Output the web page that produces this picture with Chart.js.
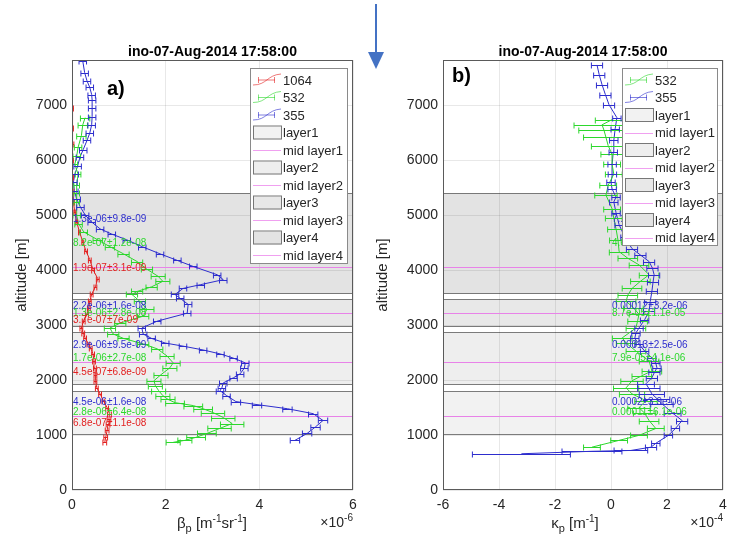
<!DOCTYPE html>
<html>
<head>
<meta charset="utf-8">
<script src="https://cdn.jsdelivr.net/npm/chart.js@4"></script>
<style>
  body { margin: 0; background: #fff; }
  #wrap { position: relative; width: 743px; height: 548px; overflow: hidden; }
  canvas { position: absolute; top: 0; }
  #ca { left: 0; }
  #cb { left: 372px; }
  #arrow { position: absolute; left: 0; top: 0; }
</style>
</head>
<body>
<div id="wrap">
  <canvas id="ca" width="372" height="548" style="width:372px;height:548px"></canvas>
  <canvas id="cb" width="371" height="548" style="width:371px;height:548px"></canvas>
  <svg id="arrow" width="743" height="80">
    <line x1="376" y1="4" x2="376" y2="54" stroke="#4472c4" stroke-width="2"/>
    <polygon points="368,52 384,52 376,69" fill="#4472c4"/>
  </svg>
</div>
<script>
// ---- panel a: backscatter (x 1e-6 m-1 sr-1) ----
const alt355a = [904,1030,1150,1266,1390,1480,1555,1610,1720,1810,1860,1950,2045,2115,2220,2315,2400,2477,2550,2620,2676,2760,2840,2950,3075,3220,3380,3490,3560,3670,3740,3830,3920,4070,4180,4300,4430,4555,4660,4755,4880,5010,5150,5300,5450,5600,5750,5900,6060,6200,6365,6500,6650,6800,6960,7100,7200,7330,7450,7600,7810];
const beta355 = [4.76,5.02,5.2,5.36,5.15,4.6,3.95,3.5,3.3,3.16,3.2,3.23,3.45,3.59,3.68,3.7,3.45,3.17,2.8,2.37,1.99,1.7,1.52,1.49,1.82,2.46,2.48,2.31,2.2,2.37,2.75,3.23,3.1,2.59,2.25,1.88,1.5,1.17,0.85,0.6,0.42,0.28,0.18,0.1,0.05,0.03,0.06,0.12,0.17,0.24,0.32,0.38,0.42,0.43,0.43,0.43,0.42,0.38,0.32,0.27,0.23];
const err355a = [.1,.1,.1,.1,.1,.1,.1,.1,.08,.08,.08,.08,.08,.08,.08,.08,.08,.08,.08,.08,.08,.08,.08,.08,.08,.08,.08,.08,.08,.08,.08,.08,.08,.08,.08,.08,.08,.08,.08,.08,.08,.08,.08,.08,.08,.08,.08,.08,.08,.08,.08,.08,.08,.08,.08,.08,.08,.08,.08,.08,.08];

const alt532a = [868,904,960,1030,1120,1210,1320,1410,1480,1537,1590,1650,1718,1810,1900,1990,2100,2225,2315,2440,2570,2660,2760,2840,2950,3040,3165,3290,3435,3560,3615,3700,3800,3890,4020,4160,4300,4430,4555,4700,4850,5000,5240,5400,5550,5750,5930,6080,6240,6450,6650,6780];
const beta532 = [2.16,2.41,2.65,2.88,3.15,3.42,3.23,3.01,2.8,2.59,2.2,2.05,1.94,1.85,1.78,1.75,1.9,2.09,2.16,2.03,1.82,1.52,1.1,0.88,0.81,1.03,1.52,1.6,1.45,1.28,1.39,1.7,1.94,1.84,1.6,1.39,1.1,0.81,0.55,0.25,0.14,0.1,0.1,0.1,0.1,0.13,0.06,0.1,0.13,0.2,0.23,0.28];
const err532a = [.15,.15,.2,.2,.25,.25,.25,.25,.2,.2,.2,.15,.15,.15,.15,.15,.15,.15,.15,.15,.12,.12,.12,.12,.12,.12,.12,.15,.12,.12,.12,.12,.15,.15,.12,.12,.12,.1,.1,.08,.08,.08,.06,.06,.06,.06,.06,.08,.08,.1,.1,.1];

const alt1064 = [868,960,1085,1200,1300,1390,1500,1627,1750,1862,1990,2100,2225,2350,2477,2580,2660,2770,2860,2950,3080,3200,3320,3435,3560,3700,3850,4010,4195,4350,4520,4700,4880,5060,5240,5450,5700,6000,6300,6600,6950];
const beta1064 = [0.7,0.72,0.75,0.77,0.79,0.8,0.75,0.67,0.6,0.53,0.5,0.5,0.49,0.47,0.45,0.4,0.35,0.28,0.24,0.2,0.25,0.32,0.36,0.38,0.42,0.5,0.55,0.45,0.38,0.3,0.23,0.16,0.1,0.06,0.03,0.02,0.01,0.01,0.02,0.01,0.01];
const err1064 = [.04,.04,.04,.04,.04,.04,.03,.03,.03,.03,.03,.03,.03,.03,.03,.03,.03,.03,.03,.03,.03,.03,.03,.03,.03,.03,.03,.03,.03,.03,.02,.02,.02,.02,.02,.02,.02,.02,.02,.02,.02];

// ---- panel b: extinction (x 1e-4 m-1) ----
const alt355b = [660,705,720,780,850,995,1120,1265,1400,1570,1660,1750,1850,1935,2045,2140,2225,2310,2405,2530,2660,2760,2860,2950,3100,3255,3430,3615,3780,3920,4040,4160,4280,4395,4600,4830,5050,5245,5335,5480,5600,5750,5930,6150,6365,6580,6780,7015,7200,7380,7560,7740];
const kappa355 = [-3.2,-0.68,0.71,1.43,1.6,2.05,2.3,2.54,2.2,1.82,1.65,1.46,1.35,1.25,1.46,1.55,1.64,1.6,1.46,1.2,1.0,0.85,0.89,1.0,1.2,1.36,1.4,1.46,1.5,1.54,1.48,1.36,1.05,0.75,0.5,0.29,0.18,0.1,0.18,0.04,0.0,0.05,0.04,0.08,0.1,0.15,0.21,-0.07,-0.2,-0.32,-0.42,-0.5];
const err355b = [1.75,1.07,0.6,0.2,0.15,0.15,0.15,0.2,0.3,0.4,0.45,0.45,0.4,0.3,0.2,0.2,0.15,0.15,0.15,0.15,0.15,0.15,0.15,0.15,0.15,0.2,0.2,0.2,0.2,0.2,0.2,0.2,0.2,0.2,0.15,0.15,0.15,0.15,0.15,0.15,0.15,0.15,0.15,0.15,0.15,0.15,0.15,0.2,0.2,0.2,0.2,0.2];

const alt532b = [780,904,995,1120,1265,1400,1500,1627,1750,1860,1990,2080,2170,2350,2530,2676,2770,2950,3080,3200,3320,3435,3550,3670,3800,3920,4100,4220,4340,4550,4755,4950,5120,5370,5550,5750,5930,6110,6270,6420,6550,6650,6745];
const kappa532 = [-0.68,0.29,1.0,1.6,1.36,1.2,1.0,1.25,0.75,0.54,0.75,1.1,1.46,1.36,0.89,0.54,0.4,0.89,0.95,1.0,0.8,0.54,0.6,0.75,1.05,1.36,1.0,0.6,0.29,0.25,0.18,0.1,0.04,-0.18,-0.1,0.1,0.04,0.04,-0.1,-0.18,-0.25,-0.32,0.04];
const err532b = [0.3,0.3,0.3,0.3,0.35,0.4,0.4,0.4,0.45,0.45,0.4,0.35,0.35,0.35,0.35,0.35,0.35,0.35,0.35,0.35,0.35,0.35,0.35,0.35,0.35,0.35,0.35,0.35,0.35,0.3,0.3,0.3,0.3,0.4,0.3,0.3,0.3,0.4,0.6,0.8,0.9,1.0,0.6];

// ---- tick labels ----
const altTicks = [0, 1000, 2000, 3000, 4000, 5000, 6000, 7000];
const betaTicks = [0, 2, 4, 6];
const kappaTicks = [-6, -4, -2, 0, 2, 4];

// ---- layers (m) ----
const layerBottom = [1020, 1925, 2993, 3594];
const layerTop = [1803, 2873, 3474, 5410];
const layerMid = [1348, 2326, 3219, 4056];

// ---- per-layer value labels: text, series, altitude ----
const labelsA = [
  ['1.3e-06\u00b19.8e-09', '355', 4936], ['8.2e-07\u00b11.2e-08', '532', 4499], ['1.9e-07\u00b13.1e-09', '1064', 4044],
  ['2.2e-06\u00b11.6e-08', '355', 3352], ['1.3e-06\u00b12.8e-08', '532', 3224], ['3.7e-07\u00b17e-09', '1064', 3097],
  ['2.9e-06\u00b19.5e-09', '355', 2641], ['1.7e-06\u00b12.7e-08', '532', 2404], ['4.5e-07\u00b16.8e-09', '1064', 2149],
  ['4.5e-06\u00b11.6e-08', '355', 1603], ['2.8e-06\u00b16.4e-08', '532', 1421], ['6.8e-07\u00b11.1e-08', '1064', 1220]
];
const labelsB = [
  ['7.1e-05\u00b12.2e-06', '355', 4936], ['4.6e-05\u00b15.3e-06', '532', 4499],
  ['0.00012\u00b13.2e-06', '355', 3352], ['8.7e-05\u00b11.1e-05', '532', 3224],
  ['0.00013\u00b12.5e-06', '355', 2641], ['7.9e-05\u00b14.1e-06', '532', 2404],
  ['0.0002\u00b13.9e-06', '355', 1603], ['0.00011\u00b16.1e-06', '532', 1421]
];

const FONT = '"Liberation Sans", Arial, sans-serif';
const COL = { '1064': 'rgb(226,32,32)', '532': 'rgb(45,215,45)', '355': 'rgb(45,45,205)' };
const LIGHT = { '1064': 'rgba(226,32,32,0.6)', '532': 'rgba(45,215,45,0.6)', '355': 'rgba(45,45,205,0.6)' };
const LAYER_FILL = ['rgba(0,0,0,0.05)', 'rgba(0,0,0,0.065)', 'rgba(0,0,0,0.09)', 'rgba(0,0,0,0.11)'];
const MID_COL = 'rgb(232,130,232)';
const TXT = '#262626';

function pts(alt, val, err) {
  return alt.map((a, i) => ({ x: val[i], y: a, e: err[i] }));
}

function rich(ctx, parts, x, y, align) {
  let w = 0;
  parts.forEach(p => { ctx.font = p[1] + 'px ' + FONT; w += ctx.measureText(p[0]).width; });
  let cx = align === 'center' ? x - w / 2 : align === 'right' ? x - w : x;
  ctx.textAlign = 'left';
  ctx.textBaseline = 'alphabetic';
  parts.forEach(p => {
    ctx.font = p[1] + 'px ' + FONT;
    ctx.fillText(p[0], cx, y + p[2]);
    cx += ctx.measureText(p[0]).width;
  });
}

function deco(cfg) {
  return {
    id: 'deco',
    beforeDatasetsDraw(chart) {
      const { ctx, chartArea: ca, scales: { y } } = chart;
      ctx.save();
      ctx.beginPath(); ctx.rect(ca.left, ca.top, ca.width, ca.height); ctx.clip();
      for (let i = 0; i < layerBottom.length; i++) {
        const yt = Math.round(y.getPixelForValue(layerTop[i])) + 0.5;
        const yb = Math.round(y.getPixelForValue(layerBottom[i])) + 0.5;
        ctx.fillStyle = LAYER_FILL[i];
        ctx.fillRect(ca.left, yt, ca.width, yb - yt);
        ctx.strokeStyle = 'rgba(0,0,0,0.5)'; ctx.lineWidth = 1;
        ctx.strokeRect(ca.left, yt, ca.width, yb - yt);
        const ym = Math.round(y.getPixelForValue(layerMid[i])) + 0.5;
        ctx.strokeStyle = MID_COL;
        ctx.beginPath(); ctx.moveTo(ca.left, ym); ctx.lineTo(ca.right, ym); ctx.stroke();
      }
      ctx.restore();
    },
    afterDatasetsDraw(chart) {
      const { ctx, chartArea: ca, scales: { x, y } } = chart;
      ctx.save();
      ctx.beginPath(); ctx.rect(ca.left, ca.top, ca.width, ca.height); ctx.clip();
      // horizontal error bars
      chart.data.datasets.forEach(ds => {
        ctx.strokeStyle = ds.borderColor; ctx.lineWidth = 1;
        ds.data.forEach(p => {
          const py = Math.round(y.getPixelForValue(p.y)) + 0.5;
          const x1 = x.getPixelForValue(p.x - p.e), x2 = x.getPixelForValue(p.x + p.e);
          ctx.beginPath();
          ctx.moveTo(x1, py); ctx.lineTo(x2, py);
          ctx.moveTo(x1, py - 3); ctx.lineTo(x1, py + 3);
          ctx.moveTo(x2, py - 3); ctx.lineTo(x2, py + 3);
          ctx.stroke();
        });
      });
      // layer value labels
      ctx.font = '10px ' + FONT; ctx.textAlign = 'left'; ctx.textBaseline = 'middle';
      cfg.labels.forEach(l => {
        ctx.fillStyle = COL[l[1]];
        ctx.fillText(l[0], x.getPixelForValue(0) + 1, y.getPixelForValue(l[2]));
      });
      ctx.restore();

      // legend
      const lg = cfg.legend;
      ctx.fillStyle = '#fff'; ctx.fillRect(lg.x, lg.y, lg.w, lg.h);
      ctx.strokeStyle = '#8a8a8a'; ctx.lineWidth = 1;
      ctx.strokeRect(lg.x + 0.5, lg.y + 0.5, lg.w, lg.h);
      let ry = lg.y + 12;
      const ix = lg.x + 3;
      lg.items.forEach(it => {
        if (it.type === 'err') {
          ctx.strokeStyle = LIGHT[it.key];
          ctx.beginPath();
          ctx.moveTo(ix, ry + 5); ctx.bezierCurveTo(ix + 14, ry + 5, ix + 14, ry - 5, ix + 28, ry - 6);
          ctx.moveTo(ix + 5, ry); ctx.lineTo(ix + 22, ry);
          ctx.moveTo(ix + 5.5, ry - 3); ctx.lineTo(ix + 5.5, ry + 3);
          ctx.moveTo(ix + 21.5, ry - 3); ctx.lineTo(ix + 21.5, ry + 3);
          ctx.stroke();
        } else if (it.type === 'patch') {
          ctx.fillStyle = '#fff'; ctx.fillRect(ix, ry - 6, 28, 13);
          ctx.fillStyle = LAYER_FILL[it.i]; ctx.fillRect(ix, ry - 6, 28, 13);
          ctx.strokeStyle = '#777'; ctx.strokeRect(ix + 0.5, ry - 6.5, 28, 13);
        } else {
          ctx.strokeStyle = 'rgb(240,160,240)';
          ctx.beginPath(); ctx.moveTo(ix, Math.round(ry) + 0.5); ctx.lineTo(ix + 28, Math.round(ry) + 0.5); ctx.stroke();
        }
        ctx.fillStyle = TXT; ctx.font = '13px ' + FONT;
        ctx.textAlign = 'left'; ctx.textBaseline = 'middle';
        ctx.fillText(it.label, ix + 30, ry + 1);
        ry += 17.5;
      });

      // frame
      ctx.strokeStyle = '#5a5a5a'; ctx.lineWidth = 1;
      ctx.strokeRect(ca.left + 0.5, ca.top + 0.5, ca.width - 1, ca.height - 1);

      // title
      ctx.fillStyle = '#000'; ctx.font = 'bold 14px ' + FONT;
      ctx.textAlign = 'center'; ctx.textBaseline = 'middle';
      ctx.fillText(cfg.title, (ca.left + ca.right) / 2, 52);

      // panel letter
      ctx.font = 'bold 20px ' + FONT; ctx.textAlign = 'left';
      ctx.fillText(cfg.letter[0], cfg.letter[1], cfg.letter[2]);

      // axis titles
      ctx.fillStyle = TXT;
      ctx.save();
      ctx.translate(cfg.yTitleX, (ca.top + ca.bottom) / 2);
      ctx.rotate(-Math.PI / 2);
      ctx.font = '15px ' + FONT; ctx.textAlign = 'center'; ctx.textBaseline = 'middle';
      ctx.fillText('altitude [m]', 0, 0);
      ctx.restore();
      rich(ctx, cfg.xTitle, cfg.xTitleX, 528, 'center');
      rich(ctx, cfg.expo, ca.right, 527, 'right');
      ctx.restore();
    }
  };
}

function lineSet(label, key, data) {
  return {
    label: label, data: data, showLine: true, borderColor: COL[key], backgroundColor: COL[key],
    borderWidth: 1, pointRadius: 0, tension: 0
  };
}

function axes(xmin, xmax, xTicks) {
  const tick = { font: { family: FONT, size: 14 }, color: TXT, callback: v => String(v) };
  return {
    x: {
      type: 'linear', min: xmin, max: xmax,
      afterFit: s => { s.height = 58; },
      afterBuildTicks: s => { s.ticks = xTicks.map(v => ({ value: v })); },
      ticks: Object.assign({ padding: 7 }, tick),
      grid: { color: 'rgba(0,0,0,0.09)', drawTicks: false }, border: { display: false }
    },
    y: {
      type: 'linear', min: 0, max: 7830,
      afterFit: s => { s.width = 71; },
      afterBuildTicks: s => { s.ticks = altTicks.map(v => ({ value: v })); },
      ticks: Object.assign({ padding: 5 }, tick),
      grid: { color: 'rgba(0,0,0,0.09)', drawTicks: false }, border: { display: false }
    }
  };
}

const legendItemsLayers = [
  { type: 'patch', i: 0, label: 'layer1' }, { type: 'mid', label: 'mid layer1' },
  { type: 'patch', i: 1, label: 'layer2' }, { type: 'mid', label: 'mid layer2' },
  { type: 'patch', i: 2, label: 'layer3' }, { type: 'mid', label: 'mid layer3' },
  { type: 'patch', i: 3, label: 'layer4' }, { type: 'mid', label: 'mid layer4' }
];

new Chart(document.getElementById('ca'), {
  type: 'scatter',
  data: {
    datasets: [
      lineSet('1064', '1064', pts(alt1064, beta1064, err1064)),
      lineSet('532', '532', pts(alt532a, beta532, err532a)),
      lineSet('355', '355', pts(alt355a, beta355, err355a))
    ]
  },
  options: {
    responsive: false, animation: false,
    layout: { padding: { top: 60, right: 19, left: 1, bottom: 0 } },
    plugins: { legend: { display: false }, tooltip: { enabled: false } },
    scales: axes(0, 6, betaTicks)
  },
  plugins: [deco({
    title: 'ino-07-Aug-2014 17:58:00',
    letter: ['a)', 107, 89],
    labels: labelsA,
    yTitleX: 22,
    xTitleX: 212,
    xTitle: [['\u03b2', 15, 0], ['p', 11, 4], [' [m', 15, 0], ['-1', 10, -6], ['sr', 15, 0], ['-1', 10, -6], [']', 15, 0]],
    expo: [['\u00d710', 14, 0], ['-6', 10, -6]],
    legend: {
      x: 250, y: 68, w: 97, h: 195,
      items: [{ type: 'err', key: '1064', label: '1064' }, { type: 'err', key: '532', label: '532' }, { type: 'err', key: '355', label: '355' }].concat(legendItemsLayers)
    }
  })]
});

new Chart(document.getElementById('cb'), {
  type: 'scatter',
  data: {
    datasets: [
      lineSet('532', '532', pts(alt532b, kappa532, err532b)),
      lineSet('355', '355', pts(alt355b, kappa355, err355b))
    ]
  },
  options: {
    responsive: false, animation: false,
    layout: { padding: { top: 60, right: 20, left: 0, bottom: 0 } },
    plugins: { legend: { display: false }, tooltip: { enabled: false } },
    scales: axes(-6, 4, kappaTicks)
  },
  plugins: [deco({
    title: 'ino-07-Aug-2014 17:58:00',
    letter: ['b)', 80, 76],
    labels: labelsB,
    yTitleX: 11,
    xTitleX: 203,
    xTitle: [['\u03ba', 15, 0], ['p', 11, 4], [' [m', 15, 0], ['-1', 10, -6], [']', 15, 0]],
    expo: [['\u00d710', 14, 0], ['-4', 10, -6]],
    legend: {
      x: 250, y: 68, w: 95, h: 177,
      items: [{ type: 'err', key: '532', label: '532' }, { type: 'err', key: '355', label: '355' }].concat(legendItemsLayers)
    }
  })]
});
</script>
</body>
</html>
